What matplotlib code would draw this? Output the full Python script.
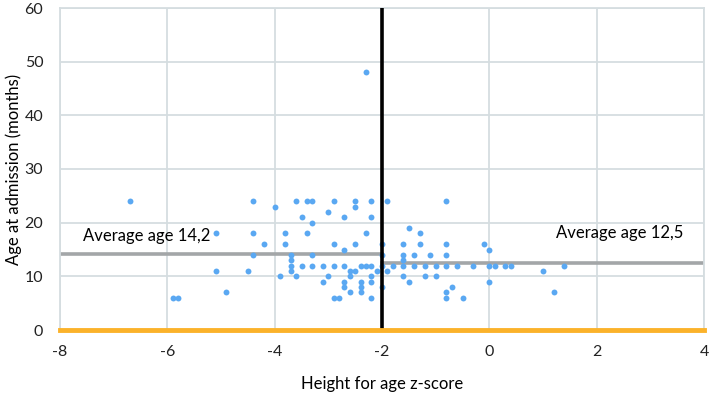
import matplotlib.pyplot as plt

plt.rcParams['font.family'] = ['Lato', 'DejaVu Sans']
plt.rcParams['axes.unicode_minus'] = False

# height-for-age z-score and age at admission (months)
z_score = [-6.7, -4.4, -5.1, -4.4, -4.4, -5.1, -4.5, -4.9, -5.9, -5.8,
           -4.0, -3.6, -3.4, -3.3, -2.9, -3.5, -3.0, -3.3, -3.8, -3.4,
           -4.2, -3.8, -2.9, -3.7, -3.3, -3.7, -3.7, -3.5, -3.3, -3.1,
           -2.9, -3.7, -3.9, -3.6, -3.0, -3.1, -2.9, -2.8,
           -2.5, -2.5, -2.2, -1.9, -2.7, -2.2, -1.5, -2.3, -1.3, -2.5,
           -2.0, -1.6, -1.3, -2.7, -2.0, -1.6, -1.6, -2.7, -2.4, -2.3,
           -2.2, -2.0, -1.8, -1.6, -1.4, -2.6, -2.5, -2.1, -1.9, -2.6,
           -2.2, -1.6, -2.7, -2.4, -2.2, -1.5, -2.7, -2.4, -2.0, -2.6,
           -2.4, -2.2, -2.3,
           -0.8, -0.8, -0.1, 0.0, -1.4, -1.1, -0.8, -1.2, -1.0, -0.8,
           -0.6, -0.3, 0.0, 0.1, 0.3, 0.4, 1.4, 1.0, -1.2, -1.0,
           0.0, -0.7, -0.8, 1.2, -0.8, -0.5]
age_months = [24, 24, 18, 18, 14, 11, 11, 7, 6, 6,
              23, 24, 24, 24, 24, 21, 22, 20, 18, 18,
              16, 16, 16, 14, 14, 13, 12, 12, 12, 12,
              12, 11, 10, 10, 10, 9, 6, 6,
              24, 23, 24, 24, 21, 21, 19, 18, 18, 16,
              16, 16, 16, 15, 14, 14, 13, 12, 12, 12,
              12, 12, 12, 12, 12, 11, 11, 11, 11, 10,
              10, 10, 9, 9, 9, 9, 8, 8, 8, 7,
              7, 6, 48,
              24, 16, 16, 15, 14, 14, 14, 12, 12, 12,
              12, 12, 12, 12, 12, 12, 12, 11, 10, 10,
              9, 8, 7, 7, 6, 6]

cutoff = -2
avg_low = 14.2
avg_high = 12.5
x_ticks = [-8, -6, -4, -2, 0, 2, 4]
y_ticks = [0, 10, 20, 30, 40, 50, 60]

fig = plt.figure(figsize=(7.09, 3.93), dpi=100)
ax = fig.add_axes([60 / 709, 1 - 330 / 393, 644 / 709, 322 / 393])

grid_col = '#d5dde0'
ax.set_xlim(-8, 4)
ax.set_ylim(0, 60)
ax.set_xticks(x_ticks)
ax.set_yticks(y_ticks)
ax.grid(True, color=grid_col, linewidth=1.3, zorder=0)
for s in ax.spines.values():
    s.set_color(grid_col)
    s.set_linewidth(1.3)
ax.tick_params(length=0, labelsize=11.5, colors='#222222')
ax.tick_params(axis='x', pad=11)
ax.tick_params(axis='y', pad=12)

ax.scatter(z_score, age_months, s=18, color='#5aa8f2', zorder=3, linewidths=0)

# average lines either side of the -2 cutoff
ax.plot([-8, cutoff], [avg_low, avg_low], color='#a3a6a8', lw=2.6, zorder=2)
ax.plot([cutoff, 4], [avg_high, avg_high], color='#a3a6a8', lw=2.6, zorder=2)
ax.axvline(cutoff, color='black', lw=2.6, zorder=4)
ax.axhline(0, color='#fbb22a', lw=3.5, zorder=4, clip_on=False)

ax.text(-7.57, 17.5, 'Average age 14,2', fontsize=12, va='center', ha='left')
ax.text(1.25, 18.0, 'Average age 12,5', fontsize=12, va='center', ha='left')

ax.set_xlabel('Height for age z-score', fontsize=12, labelpad=12)
ax.set_ylabel('Age at admission (months)', fontsize=12)
ax.yaxis.set_label_coords(-0.059, 0.5)

fig.savefig('out.png', dpi=100)
